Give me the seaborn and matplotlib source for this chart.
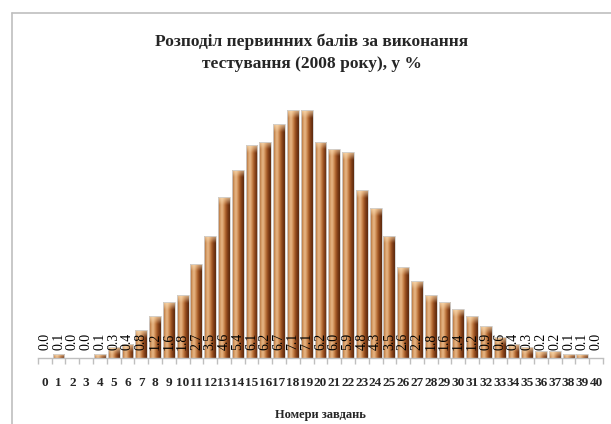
import numpy as np
import pandas as pd
import matplotlib
matplotlib.use('Agg')
import matplotlib.pyplot as plt
from matplotlib.colors import LinearSegmentedColormap
from matplotlib.lines import Line2D
import seaborn as sns

# ── Data ────────────────────────────────────────────────────
scores = list(range(0, 41))
percent = [0.0, 0.1, 0.0, 0.0, 0.1, 0.3, 0.4, 0.8, 1.2, 1.6,
           1.8, 2.7, 3.5, 4.6, 5.4, 6.1, 6.2, 6.7, 7.1, 7.1,
           6.2, 6.0, 5.9, 4.8, 4.3, 3.5, 2.6, 2.2, 1.8, 1.6,
           1.4, 1.2, 0.9, 0.6, 0.4, 0.3, 0.2, 0.2, 0.1, 0.1, 0.0]

title = 'Розподіл первинних балів за виконання\nтестування (2008 року), у %'
xlabel = 'Номери завдань'

df = pd.DataFrame({'score': [str(s) for s in scores], 'pct': percent})

sns.set_theme(style='white')
plt.rcParams['font.family'] = ['Liberation Serif', 'DejaVu Serif']

fig = plt.figure(figsize=(6.11, 4.24), dpi=100)
ax = fig.add_axes([0.062, 0.156, 0.925, 0.658])

sns.barplot(data=df, x='score', y='pct', color='#B5652E', width=0.86,
            edgecolor='#d0d0d0', linewidth=0.6, ax=ax, zorder=2)

# copper gradient on every bar (light left/centre, dark right)
copper = LinearSegmentedColormap.from_list(
    'copper_bar', ['#a35d2c', '#d39860', '#e9b98a', '#d08f56', '#a55a26', '#7a3a15', '#5c2a0f'])
grad = np.linspace(0, 1, 64).reshape(1, -1)
cap = LinearSegmentedColormap.from_list('cap', [(1, 0.9, 0.75, 0.0), (1, 0.88, 0.7, 0.75)])
capgrad = np.linspace(0, 1, 32).reshape(-1, 1)
for p in ax.patches:
    x0, y0 = p.get_x(), p.get_y()
    w, h = p.get_width(), p.get_height()
    if h <= 0:
        continue
    im = ax.imshow(grad, cmap=copper, aspect='auto', extent=[x0, x0 + w, y0, y0 + h],
                   zorder=2.5, interpolation='bicubic')
    im.set_clip_path(p)
    ch = min(0.22, h)
    im2 = ax.imshow(capgrad, cmap=cap, aspect='auto', origin='lower',
                    extent=[x0, x0 + w, y0 + h - ch, y0 + h], zorder=2.6,
                    interpolation='bicubic')
    im2.set_clip_path(p)
    p.set_facecolor('none')
    p.set_zorder(3)

ax.set_xlim(-0.5, 40.5)
ax.set_ylim(0, 8)

# value labels, rotated, near the base
for i, v in enumerate(percent):
    ax.text(i, 0.47, f'{v:.1f}', rotation=90, ha='center', va='center',
            fontsize=10, color='black', zorder=5)

for s in ['top', 'right', 'left']:
    ax.spines[s].set_visible(False)
ax.spines['bottom'].set_color('#bfbfbf')
ax.spines['bottom'].set_linewidth(1)
ax.set_yticks([])
ax.set_xticks(np.arange(0, 41))
ax.set_xticklabels(scores, fontsize=9.5, fontweight='bold')
ax.tick_params(axis='x', length=0, pad=14)

# tick marks between categories
ax.set_xticks(np.arange(-0.5, 41, 1), minor=True)
ax.tick_params(axis='x', which='minor', length=4, color='#bfbfbf', width=1, bottom=True)

ax.set_xlabel(xlabel, fontsize=9, fontweight='bold', labelpad=14)
ax.set_ylabel('')

fig.text(0.51, 0.876, title, ha='center', va='center', fontsize=12.5,
         fontweight='bold', linespacing=1.55)

# chart area frame (top and left)
fig.add_artist(Line2D([0.02, 1.0], [0.969, 0.969], color='#bfbfbf', lw=1.2))
fig.add_artist(Line2D([0.02, 0.02], [0.969, 0.0], color='#bfbfbf', lw=1.2))

fig.savefig('out.png', dpi=100)
